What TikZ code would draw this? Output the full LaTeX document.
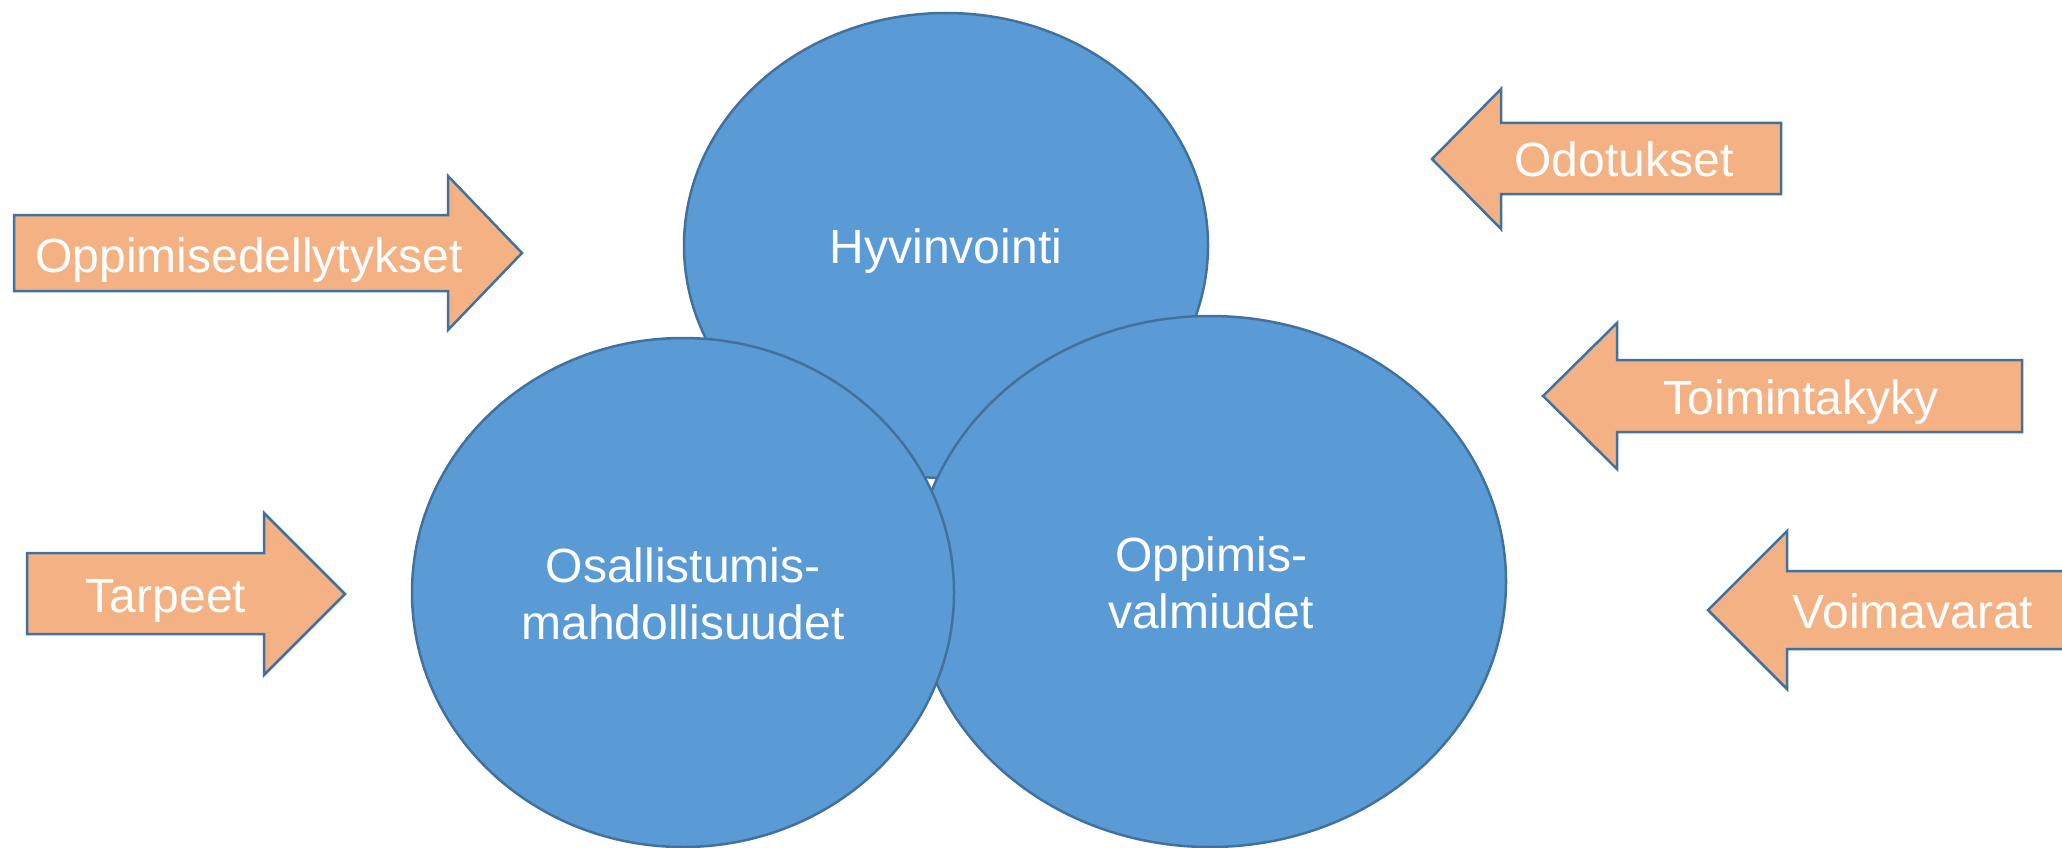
\documentclass[tikz,border=0pt]{standalone}
\usepackage{fontspec}
\setmainfont{Liberation Sans}
\definecolor{bluefill}{HTML}{5B9BD5}
\definecolor{blueline}{HTML}{41719C}
\definecolor{orangefill}{HTML}{F4B183}
\tikzset{
  bubble/.style={fill=bluefill, draw=blueline, line width=2.5pt},
  arrowshape/.style={fill=orangefill, draw=blueline, line width=2.5pt, line join=miter},
  lbl/.style={text=white, font=\fontsize{48}{57.6}\selectfont, inner sep=0pt},
  blbl/.style={lbl, align=center}
}
\begin{document}
\begin{tikzpicture}[x=1pt,y=-1pt]
\useasboundingbox (0,0) rectangle (2062,848);
\clip (0,0) rectangle (2062,848);
% ellipses
\draw[bubble] (946,245.5) ellipse [x radius=262, y radius=232.5];
\draw[bubble] (1210,581.5) ellipse [x radius=296, y radius=265.5];
\draw[bubble] (683,592.5) ellipse [x radius=271, y radius=254.5];
\node[lbl, anchor=base] (hyv) at (946,263) {Hyvinvointi};
\node[blbl] (osa) at (683,594) {Osallistumis-\\mahdollisuudet};
\node[blbl] (opv) at (1211,583) {Oppimis-\\valmiudet};
% right-pointing arrows
\draw[arrowshape] (14,215) -- (448,215) -- (448,176) -- (522,253) -- (448,330) -- (448,291) -- (14,291) -- cycle;
\node[lbl, anchor=base] (oppe) at (249,272) {Oppimisedellytykset};
\draw[arrowshape] (27,553) -- (264,553) -- (264,513) -- (345,594) -- (264,675) -- (264,634) -- (27,634) -- cycle;
\node[lbl, anchor=base] (tarp) at (166,612) {Tarpeet};
% left-pointing arrows
\draw[arrowshape] (1432,159) -- (1501,89) -- (1501,123) -- (1781,123) -- (1781,194) -- (1501,194) -- (1501,229) -- cycle;
\node[lbl, anchor=base] (odot) at (1624,177) {Odotukset};
\draw[arrowshape] (1543,396) -- (1617,323) -- (1617,360) -- (2022,360) -- (2022,432) -- (1617,432) -- (1617,469) -- cycle;
\node[lbl, anchor=base] (toim) at (1801,414) {Toimintakyky};
\draw[arrowshape] (1708,610) -- (1787,531) -- (1787,571) -- (2090,571) -- (2090,649) -- (1787,649) -- (1787,689) -- cycle;
\node[lbl, anchor=base] (voim) at (1913,628) {Voimavarat};
\end{tikzpicture}
\end{document}
